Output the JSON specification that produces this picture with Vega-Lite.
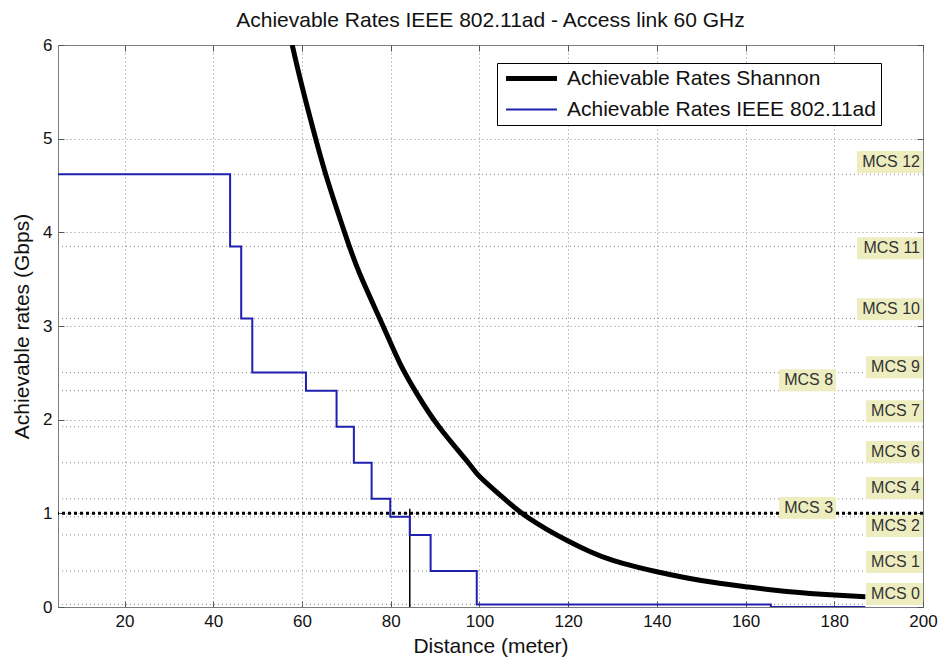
{
  "$schema": "https://vega.github.io/schema/vega-lite/v6.json",
  "width": 865,
  "height": 562,
  "autosize": "none",
  "padding": {"left": 58, "top": 45, "right": 20, "bottom": 53},
  "background": "white",
  "title": {"text": "Achievable Rates IEEE 802.11ad - Access link 60 GHz", "font": "Liberation Sans", "fontSize": 21, "fontWeight": "normal", "color": "#111", "offset": 5},
  "datasets": {
    "shannon": [
      {"d": 57.8, "rate": 6.0, "series": "Achievable Rates Shannon"},
      {"d": 60, "rate": 5.56, "series": "Achievable Rates Shannon"},
      {"d": 63.2, "rate": 4.98, "series": "Achievable Rates Shannon"},
      {"d": 66, "rate": 4.52, "series": "Achievable Rates Shannon"},
      {"d": 69.6, "rate": 4.0, "series": "Achievable Rates Shannon"},
      {"d": 73, "rate": 3.56, "series": "Achievable Rates Shannon"},
      {"d": 77.9, "rate": 3.04, "series": "Achievable Rates Shannon"},
      {"d": 82, "rate": 2.61, "series": "Achievable Rates Shannon"},
      {"d": 86, "rate": 2.27, "series": "Achievable Rates Shannon"},
      {"d": 91.1, "rate": 1.91, "series": "Achievable Rates Shannon"},
      {"d": 97.5, "rate": 1.54, "series": "Achievable Rates Shannon"},
      {"d": 100.1, "rate": 1.39, "series": "Achievable Rates Shannon"},
      {"d": 105, "rate": 1.18, "series": "Achievable Rates Shannon"},
      {"d": 109.9, "rate": 0.99, "series": "Achievable Rates Shannon"},
      {"d": 115, "rate": 0.835, "series": "Achievable Rates Shannon"},
      {"d": 120, "rate": 0.705, "series": "Achievable Rates Shannon"},
      {"d": 125, "rate": 0.59, "series": "Achievable Rates Shannon"},
      {"d": 130.1, "rate": 0.497, "series": "Achievable Rates Shannon"},
      {"d": 135, "rate": 0.433, "series": "Achievable Rates Shannon"},
      {"d": 140, "rate": 0.377, "series": "Achievable Rates Shannon"},
      {"d": 150, "rate": 0.283, "series": "Achievable Rates Shannon"},
      {"d": 160, "rate": 0.217, "series": "Achievable Rates Shannon"},
      {"d": 170, "rate": 0.163, "series": "Achievable Rates Shannon"},
      {"d": 180, "rate": 0.128, "series": "Achievable Rates Shannon"},
      {"d": 187, "rate": 0.11, "series": "Achievable Rates Shannon"}
    ],
    "ieee": [
      {"d": 5, "rate": 4.62, "series": "Achievable Rates IEEE 802.11ad"},
      {"d": 43.8, "rate": 3.85, "series": "Achievable Rates IEEE 802.11ad"},
      {"d": 46.3, "rate": 3.08, "series": "Achievable Rates IEEE 802.11ad"},
      {"d": 48.8, "rate": 2.5025, "series": "Achievable Rates IEEE 802.11ad"},
      {"d": 60.9, "rate": 2.31, "series": "Achievable Rates IEEE 802.11ad"},
      {"d": 67.8, "rate": 1.925, "series": "Achievable Rates IEEE 802.11ad"},
      {"d": 71.7, "rate": 1.54, "series": "Achievable Rates IEEE 802.11ad"},
      {"d": 75.7, "rate": 1.155, "series": "Achievable Rates IEEE 802.11ad"},
      {"d": 79.9, "rate": 0.9625, "series": "Achievable Rates IEEE 802.11ad"},
      {"d": 84.3, "rate": 0.77, "series": "Achievable Rates IEEE 802.11ad"},
      {"d": 89.0, "rate": 0.385, "series": "Achievable Rates IEEE 802.11ad"},
      {"d": 99.4, "rate": 0.0275, "series": "Achievable Rates IEEE 802.11ad"},
      {"d": 165.7, "rate": 0, "series": "Achievable Rates IEEE 802.11ad"},
      {"d": 187, "rate": 0, "series": "Achievable Rates IEEE 802.11ad"}
    ],
    "mcs": [
      {"mcs": "MCS 12", "rate": 4.62, "lx": 200, "ly": 4.75},
      {"mcs": "MCS 11", "rate": 3.85, "lx": 200, "ly": 3.83},
      {"mcs": "MCS 10", "rate": 3.08, "lx": 200, "ly": 3.18},
      {"mcs": "MCS 9", "rate": 2.5025, "lx": 200, "ly": 2.56},
      {"mcs": "MCS 8", "rate": 2.31, "lx": 180.4, "ly": 2.42},
      {"mcs": "MCS 7", "rate": 1.925, "lx": 200, "ly": 2.09},
      {"mcs": "MCS 6", "rate": 1.54, "lx": 200, "ly": 1.655},
      {"mcs": "MCS 4", "rate": 1.155, "lx": 200, "ly": 1.27},
      {"mcs": "MCS 3", "rate": 0.9625, "lx": 180.4, "ly": 1.057},
      {"mcs": "MCS 2", "rate": 0.77, "lx": 200, "ly": 0.865},
      {"mcs": "MCS 1", "rate": 0.385, "lx": 200, "ly": 0.48},
      {"mcs": "MCS 0", "rate": 0.0275, "lx": 200, "ly": 0.139}
    ],
    "threshold": [{"rate": 1}],
    "cutoff": [{"d": 84.3, "lo": 0, "hi": 1.05}]
  },
  "config": {
    "view": {"stroke": "#7a7a7a", "strokeWidth": 1},
    "axis": {
      "domainColor": "#7a7a7a",
      "tickColor": "#555",
      "labelFont": "Liberation Sans",
      "labelFontSize": 17,
      "labelColor": "#111",
      "titleFont": "Liberation Sans",
      "titleFontSize": 21,
      "titleFontWeight": "normal",
      "titleColor": "#111",
      "gridColor": "#8a8a8a",
      "gridDash": [1, 3],
      "gridOpacity": 1,
      "labelFlush": false,
      "labelOverlap": false
    },
    "legend": {
      "labelFont": "Liberation Sans",
      "labelFontSize": 21,
      "labelColor": "#111",
      "labelLimit": 500
    }
  },
  "layer": [
    {
      "layer": [
        {
          "data": {"name": "mcs"},
          "mark": {"type": "rule", "color": "#8a8a8a", "strokeDash": [1, 3], "strokeWidth": 1},
          "encoding": {
            "y": {"field": "rate", "type": "quantitative", "scale": {"domain": [0, 6], "nice": false}, "title": "Achievable rates (Gbps)"}
          }
        },
        {
          "data": {"name": "threshold"},
          "mark": {"type": "rule", "color": "black", "strokeDash": [3, 3], "strokeWidth": 3},
          "encoding": {
            "y": {"field": "rate", "type": "quantitative"}
          }
        },
        {
          "data": {"name": "cutoff"},
          "mark": {"type": "rule", "color": "black", "strokeWidth": 1.5},
          "encoding": {
            "x": {"field": "d", "type": "quantitative", "scale": {"domain": [5, 200], "nice": false, "zero": false}},
            "y": {"field": "lo", "type": "quantitative"},
            "y2": {"field": "hi"}
          }
        },
        {
          "data": {"name": "shannon"},
          "mark": {"type": "line", "clip": true, "interpolate": "natural"},
          "encoding": {
            "x": {
              "field": "d", "type": "quantitative",
              "scale": {"domain": [5, 200], "nice": false, "zero": false},
              "title": "Distance (meter)",
              "axis": {"values": [20, 40, 60, 80, 100, 120, 140, 160, 180, 200], "grid": true, "tickSize": -6, "labelPadding": 12, "titlePadding": 6}
            },
            "y": {
              "field": "rate", "type": "quantitative",
              "scale": {"domain": [0, 6], "nice": false},
              "title": "Achievable rates (Gbps)",
              "axis": {"values": [0, 1, 2, 3, 4, 5, 6], "format": "d", "grid": true, "tickSize": -6, "labelPadding": 12, "titlePadding": 10}
            },
            "color": {
              "field": "series", "type": "nominal",
              "scale": {"domain": ["Achievable Rates Shannon", "Achievable Rates IEEE 802.11ad"], "range": ["#000000", "#2020b0"]},
              "legend": {"orient": "none", "legendX": 439, "legendY": 18, "title": null, "symbolType": "M-4,0H4", "symbolSize": 162, "symbolOffset": 19, "labelOffset": 25, "strokeColor": "black", "fillColor": "white", "padding": 5, "rowPadding": 9, "cornerRadius": 0}
            },
            "strokeWidth": {
              "field": "series", "type": "nominal",
              "scale": {"domain": ["Achievable Rates Shannon", "Achievable Rates IEEE 802.11ad"], "range": [5, 2]},
              "legend": {"orient": "none", "legendX": 439, "legendY": 18, "title": null, "symbolType": "M-4,0H4", "symbolSize": 162, "symbolOffset": 19, "labelOffset": 25, "strokeColor": "black", "fillColor": "white", "padding": 5, "rowPadding": 9, "cornerRadius": 0}
            }
          }
        },
        {
          "data": {"name": "ieee"},
          "mark": {"type": "line", "interpolate": "step-after", "clip": true},
          "encoding": {
            "x": {"field": "d", "type": "quantitative"},
            "y": {"field": "rate", "type": "quantitative"},
            "color": {"field": "series", "type": "nominal"},
            "strokeWidth": {"field": "series", "type": "nominal"}
          }
        },
        {
          "data": {"name": "mcs"},
          "transform": [{"filter": "length(datum.mcs) > 5"}],
          "mark": {"type": "rect", "color": "#eeedc0", "width": 66, "height": 22, "xOffset": -33},
          "encoding": {
            "x": {"field": "lx", "type": "quantitative"},
            "y": {"field": "ly", "type": "quantitative"}
          }
        },
        {
          "data": {"name": "mcs"},
          "transform": [{"filter": "length(datum.mcs) <= 5"}],
          "mark": {"type": "rect", "color": "#eeedc0", "width": 57, "height": 22, "xOffset": -28.5},
          "encoding": {
            "x": {"field": "lx", "type": "quantitative"},
            "y": {"field": "ly", "type": "quantitative"}
          }
        },
        {
          "data": {"name": "mcs"},
          "mark": {"type": "text", "align": "right", "baseline": "middle", "dx": -3, "font": "Liberation Sans", "fontSize": 16, "color": "#333"},
          "encoding": {
            "x": {"field": "lx", "type": "quantitative"},
            "y": {"field": "ly", "type": "quantitative"},
            "text": {"field": "mcs"}
          }
        }
      ]
    },
    {
      "data": {"name": "threshold"},
      "mark": {"type": "point", "opacity": 0},
      "encoding": {
        "x": {"datum": 100, "type": "quantitative", "scale": {"domain": [5, 200], "nice": false, "zero": false}, "axis": {"orient": "top", "values": [20, 40, 60, 80, 100, 120, 140, 160, 180, 200], "labels": false, "grid": false, "domain": false, "tickSize": -6, "title": null}},
        "y": {"field": "rate", "type": "quantitative", "scale": {"domain": [0, 6], "nice": false}, "axis": {"orient": "right", "values": [0, 1, 2, 3, 4, 5, 6], "labels": false, "grid": false, "domain": false, "tickSize": -6, "title": null}}
      }
    }
  ],
  "resolve": {"axis": {"x": "independent", "y": "independent"}}
}
